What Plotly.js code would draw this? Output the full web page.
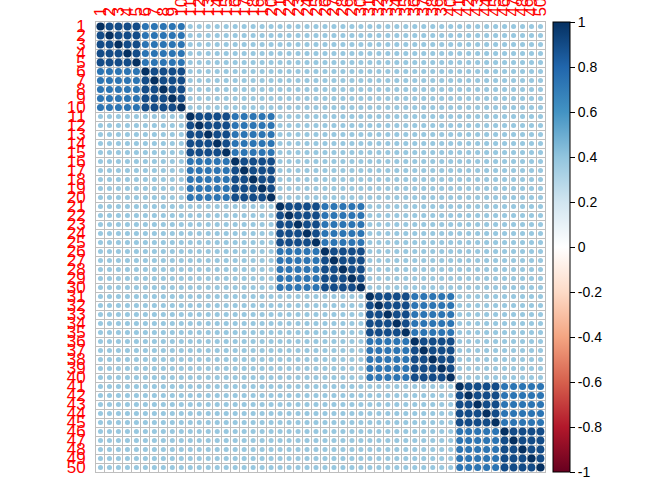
<!DOCTYPE html>
<html><head><meta charset="utf-8">
<script src="https://cdn.plot.ly/plotly-3.0.1.min.js"></script>
<style>html,body{margin:0;padding:0;background:#fff}</style>
</head><body><div id="chart" style="width:672px;height:480px"></div>
<script>
// variable labels (1..50)
const variables = ['1','2','3','4','5','6','7','8','9','10','11','12','13','14','15','16','17','18','19','20',
  '21','22','23','24','25','26','27','28','29','30','31','32','33','34','35','36','37','38','39','40',
  '41','42','43','44','45','46','47','48','49','50'];
// block membership (5 blocks of 10, each with two sub-blocks of 5)
const blockOf = [1,1,1,1,1,1,1,1,1,1, 2,2,2,2,2,2,2,2,2,2, 3,3,3,3,3,3,3,3,3,3, 4,4,4,4,4,4,4,4,4,4, 5,5,5,5,5,5,5,5,5,5];
const subBlockOf = [1,1,1,1,1,2,2,2,2,2, 3,3,3,3,3,4,4,4,4,4, 5,5,5,5,5,6,6,6,6,6, 7,7,7,7,7,8,8,8,8,8, 9,9,9,9,9,10,10,10,10,10];
const diagonalValue = 1;
const sameSubBlockValue = 0.9;
const sameBlockValue = 0.74;
const otherValue = 0.38;
// colorbar tick labels
const cbTickVals = [1,0.8,0.6,0.4,0.2,0,-0.2,-0.4,-0.6,-0.8,-1];
const cbTickText = ['1','0.8','0.6','0.4','0.2','0','-0.2','-0.4','-0.6','-0.8','-1'];

const xs=[], ys=[], vals=[];
for (let i=0;i<variables.length;i++){
  for (let j=0;j<variables.length;j++){
    let v;
    if (i===j) v = diagonalValue;
    else if (subBlockOf[i]===subBlockOf[j]) v = sameSubBlockValue;
    else if (blockOf[i]===blockOf[j]) v = sameBlockValue;
    else v = otherValue;
    xs.push(j+1); ys.push(i+1); vals.push(v);
  }
}
const colorscale = [
  [0.0,'#67001F'],[0.1,'#B2182B'],[0.2,'#D6604D'],[0.3,'#F4A582'],[0.4,'#FDDBC7'],
  [0.5,'#FFFFFF'],[0.6,'#D1E5F0'],[0.7,'#92C5DE'],[0.8,'#4393C3'],[0.9,'#2166AC'],[1.0,'#053061']];
const cell = 8.2;
const trace = {
  type:'scatter', mode:'markers', x:xs, y:ys, hoverinfo:'none',
  marker:{
    color: vals, cmin:-1, cmax:1, colorscale: colorscale, opacity:1,
    size: vals.map(v=>cell*Math.sqrt(Math.abs(v))),
    line:{width:0},
    showscale:true,
    colorbar:{
      thickness:17, thicknessmode:'pixels', len:450, lenmode:'pixels',
      x:1.0178, xanchor:'left', xpad:0, y:0.5, yanchor:'middle', ypad:0,
      outlinewidth:1, outlinecolor:'#000',
      ticks:'outside', ticklen:5, tickcolor:'#000', tickwidth:1,
      tickmode:'array', tickvals:cbTickVals, ticktext:cbTickText,
      tickfont:{family:'Liberation Sans, Arial, sans-serif', size:14, color:'#000'}
    }
  }
};
const tickIdx = variables.map((_,k)=>k+1);
const labelFont = {family:'Liberation Sans Narrow, Liberation Sans, Arial, sans-serif', size:17, color:'#FF0000'};
const layout = {
  width:672, height:480,
  margin:{l:96, r:127, t:22, b:8, pad:0},
  paper_bgcolor:'#fff', plot_bgcolor:'#fff',
  showlegend:false,
  xaxis:{range:[0.5,50.5], side:'top', tickmode:'array', tickvals:tickIdx, ticktext:variables,
    tickangle:-90, tickfont:labelFont, ticks:'', showgrid:false, zeroline:false,
    showline:true, mirror:true, linecolor:'#bebebe', linewidth:1, ticklabelstandoff:1,
    minor:{tickmode:'linear', tick0:0.5, dtick:1, showgrid:true, gridcolor:'#bebebe', gridwidth:1, ticks:''},
    fixedrange:true},
  yaxis:{range:[50.5,0.5], tickmode:'array', tickvals:tickIdx, ticktext:variables,
    tickfont:labelFont, ticks:'', showgrid:false, zeroline:false,
    showline:true, mirror:true, linecolor:'#bebebe', linewidth:1, ticklabelstandoff:6,
    minor:{tickmode:'linear', tick0:0.5, dtick:1, showgrid:true, gridcolor:'#bebebe', gridwidth:1, ticks:''},
    fixedrange:true}
};
Plotly.newPlot('chart',[trace],layout,{displayModeBar:false, staticPlot:true});
</script></body></html>
